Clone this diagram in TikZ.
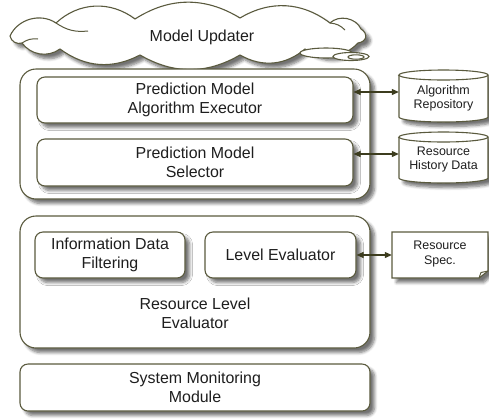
\documentclass[tikz,border=0pt]{standalone}
\usepackage{fontspec}
\setmainfont{Liberation Sans}
\usetikzlibrary{shadows.blur,arrows.meta}
\definecolor{edge}{RGB}{90,90,62}
\definecolor{arr}{RGB}{60,60,30}
\definecolor{txt}{RGB}{30,30,30}
\begin{document}
\begin{tikzpicture}[x=1bp,y=-1bp,
  sh/.style={blur shadow={shadow xshift=4.5bp,shadow yshift=-4.5bp,shadow blur steps=6,shadow opacity=55,shadow blur radius=3bp}},
  box/.style={draw=edge,line width=1.1bp,fill=white,rounded corners=8bp,sh,align=center,
    font=\fontsize{16}{19}\selectfont,text=txt,inner sep=0pt},
  bigbox/.style={box,rounded corners=16bp},
  smalltext/.style={font=\fontsize{12.5}{14.5}\selectfont,align=center,inner sep=0pt,text=txt},
  shapeline/.style={draw=edge,line width=1.1bp,fill=white},
  link/.style={draw=arr,line width=1.1bp,{Triangle[length=7bp,width=6bp]}-{Triangle[length=7bp,width=6bp]}}
]
\useasboundingbox (0,0) rectangle (489,418);

% cloud
\draw[shapeline, sh] (10,36)
  to[bend left=50] (56,23)
  to[bend left=40] (135,19)
  to[bend left=32] (240,18)
  to[bend left=34] (330,23)
  to[bend left=55] (361,29)
  to[bend left=70, looseness=1.6] (358,43)
  to[bend left=40] (305,49)
  to[bend left=35] (240,55)
  to[bend left=30] (140,55)
  to[bend left=32] (60,49)
  to[bend left=45] (22,43)
  to[bend left=50] cycle;
\draw[draw=edge,line width=1bp] (56,23) to[bend right=20] (88,31);
\draw[draw=edge,line width=1bp] (22,43) to[bend left=20] (38,39);
\draw[draw=edge,line width=1bp] (330,23) to[bend left=20] (345,30);
\draw[shapeline] (326,53) ellipse[x radius=26bp, y radius=5bp];
\draw[shapeline] (351,56.5) ellipse[x radius=18bp, y radius=4bp];
\draw[shapeline] (356,57) ellipse[x radius=8bp, y radius=2.2bp];
\node[font=\fontsize{16}{19}\selectfont, text=txt] (mu) at (202,37) {Model Updater};

% prediction group
\node[bigbox, minimum width=350bp, minimum height=130bp] (pg) at (195,134) {};
\node[box, minimum width=316bp, minimum height=46bp] (pmae) at (195,100) {Prediction Model\\Algorithm Executor};
\node[box, minimum width=316bp, minimum height=47bp] (pms) at (195,162.5) {Prediction Model\\Selector};

% cylinders
\draw[shapeline, sh] (399,75) -- (399,117) arc[start angle=180,end angle=360,x radius=44.5bp,y radius=5bp]
  -- (488,75) arc[start angle=0,end angle=180,x radius=44.5bp,y radius=5bp] -- cycle;
\draw[draw=edge,line width=1.1bp] (399,75) arc[start angle=180,end angle=360,x radius=44.5bp,y radius=5bp];
\node[smalltext, minimum width=89bp, minimum height=52bp] (cyl1) at (443.5,98) {Algorithm\\Repository};

\draw[shapeline, sh] (399,137) -- (399,178) arc[start angle=180,end angle=360,x radius=44.5bp,y radius=5bp]
  -- (488,137) arc[start angle=0,end angle=180,x radius=44.5bp,y radius=5bp] -- cycle;
\draw[draw=edge,line width=1.1bp] (399,137) arc[start angle=180,end angle=360,x radius=44.5bp,y radius=5bp];
\node[smalltext, minimum width=89bp, minimum height=52bp] (cyl2) at (443.5,159.5) {Resource\\History Data};

\draw[link] ([yshift=8bp]pmae.east) -- ([yshift=8bp]pmae.east -| cyl1.west);
\draw[link] ([yshift=8.5bp]pms.east) -- ([yshift=8.5bp]pms.east -| cyl2.west);

% resource level evaluator group
\node[bigbox, minimum width=350bp, minimum height=132bp] (rg) at (195,282) {};
\node[box, minimum width=150bp, minimum height=46bp] (idf) at (110,255) {Information Data\\Filtering};
\node[box, minimum width=151bp, minimum height=46bp] (le) at (280.5,255) {Level Evaluator};
\node[font=\fontsize{16}{19}\selectfont, align=center, text=txt] (rgl) at (195,313) {Resource Level\\Evaluator};

% document
\draw[shapeline, sh] (392,232) -- (488,232) -- (488,271) -- (479,278) -- (392,278) -- cycle;
\draw[draw=edge,line width=1bp] (479,278) -- (481,272.5) -- (488,271);
\node[smalltext, minimum width=96bp, minimum height=46bp] (doc) at (440,254) {Resource\\Spec.};
\draw[link] (le.east) -- (le.east -| doc.west);

% system monitoring
\node[box, minimum width=350bp, minimum height=47bp] (smm) at (195,387.5) {System Monitoring\\Module};
\end{tikzpicture}
\end{document}
